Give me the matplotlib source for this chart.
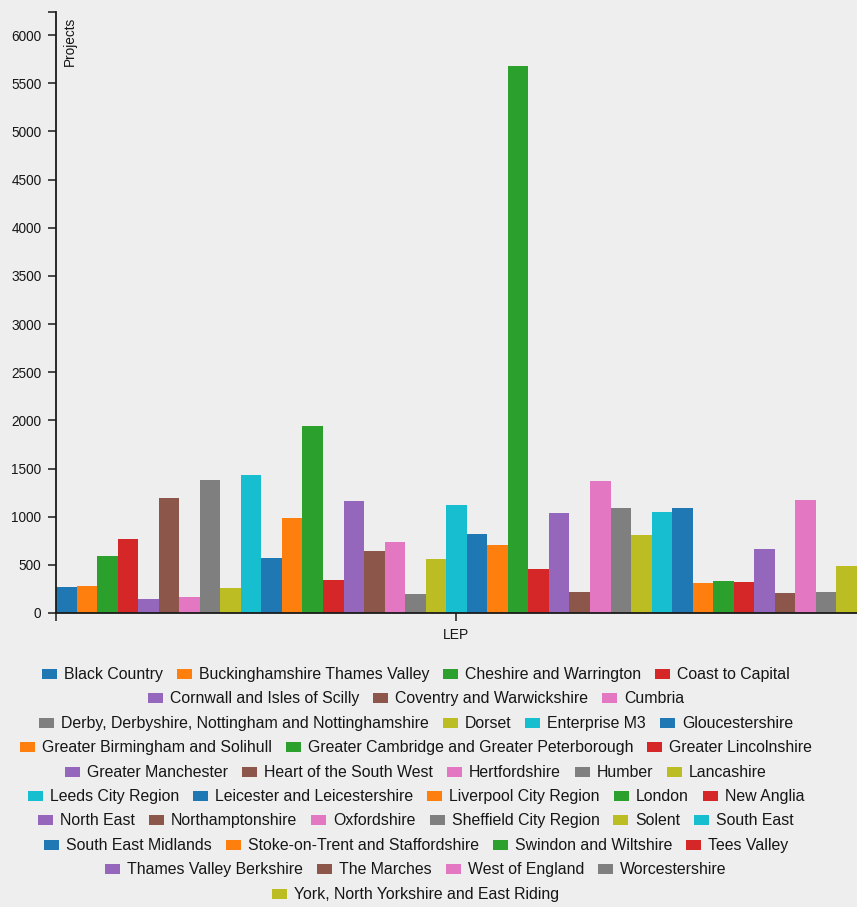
import matplotlib
matplotlib.use("Agg")
import matplotlib.pyplot as plt
from matplotlib.patches import Rectangle

W, H, DPI = 857, 907, 100
BG = "#eeeeee"
AXIS = "#1a1a1a"
TXT = "#161616"

leps = [
    "Black Country", "Buckinghamshire Thames Valley", "Cheshire and Warrington",
    "Coast to Capital", "Cornwall and Isles of Scilly", "Coventry and Warwickshire",
    "Cumbria", "Derby, Derbyshire, Nottingham and Nottinghamshire", "Dorset",
    "Enterprise M3", "Gloucestershire", "Greater Birmingham and Solihull",
    "Greater Cambridge and Greater Peterborough", "Greater Lincolnshire",
    "Greater Manchester", "Heart of the South West", "Hertfordshire", "Humber",
    "Lancashire", "Leeds City Region", "Leicester and Leicestershire",
    "Liverpool City Region", "London", "New Anglia", "North East",
    "Northamptonshire", "Oxfordshire", "Sheffield City Region", "Solent",
    "South East", "South East Midlands", "Stoke-on-Trent and Staffordshire",
    "Swindon and Wiltshire", "Tees Valley", "Thames Valley Berkshire",
    "The Marches", "West of England", "Worcestershire",
    "York, North Yorkshire and East Riding",
]
projects = [
    270, 277, 588, 768, 142, 1193, 166, 1383, 256, 1435,
    571, 982, 1937, 346, 1158, 640, 740, 197, 560, 1117,
    820, 709, 5675, 456, 1037, 218, 1373, 1089, 809, 1044,
    1089, 308, 335, 322, 660, 207, 1172, 221, 491,
]
y_ticks = list(range(0, 6001, 500))
# how many legend entries sit on each wrapped line
legend_rows = [4, 3, 4, 3, 5, 5, 6, 4, 4, 1]

palette = ["#1f77b4", "#ff7f0e", "#2ca02c", "#d62728", "#9467bd",
           "#8c564b", "#e377c2", "#7f7f7f", "#bcbd22", "#17becf"]
colors = [palette[i % len(palette)] for i in range(len(leps))]

plt.rcParams["font.family"] = ["Liberation Sans", "DejaVu Sans"]

fig = plt.figure(figsize=(W / DPI, H / DPI), dpi=DPI, facecolor=BG)
top, bottom, left = 11.7, 613.0, 56.0
ax = fig.add_axes([left / W, 1 - bottom / H, (W - left) / W, (bottom - top) / H])
ax.set_facecolor(BG)

ax.bar(range(len(leps)), projects, width=1.0, color=colors, linewidth=0)
ax.set_xlim(-0.5, len(leps) - 0.5)
ymax = max(projects) * 1.1
ax.set_ylim(0, ymax)

ax.set_yticks(y_ticks)
ax.set_yticks([ymax], minor=True)
ax.tick_params(axis="y", which="both", length=6, width=1.1, color=AXIS,
               pad=4.5, labelsize=9.8, labelcolor=TXT)
ax.set_xticks([-0.5, (len(leps) - 1) / 2])
ax.set_xticklabels(["", "LEP"])
ax.tick_params(axis="x", length=6, width=1.1, color=AXIS, pad=4.5,
               labelsize=10, labelcolor=TXT)
for side in ("top", "right"):
    ax.spines[side].set_visible(False)
for side in ("left", "bottom"):
    ax.spines[side].set_color(AXIS)
    ax.spines[side].set_linewidth(1.3)

fig.text(63 / W, 1 - 17 / H, "Projects", rotation=90, ha="left", va="top",
         fontsize=9.8, color=TXT)

# legend: centred, wrapped lines of coloured squares + labels
renderer = fig.canvas.get_renderer()
sq_w, sq_h, gap, spacing = 15, 10, 7, 14
center_x, row0, row_step = 416, 674, 24.4
idx = 0
for r, n in enumerate(legend_rows):
    baseline = row0 + row_step * r + 5
    texts = []
    for i in range(idx, idx + n):
        t = fig.text(0, 0, leps[i], fontsize=11.4, color=TXT, va="baseline", ha="left")
        texts.append(t)
    widths = [t.get_window_extent(renderer).width for t in texts]
    total = sum(sq_w + gap + w for w in widths) + spacing * (n - 1)
    x = center_x - total / 2
    for k, t in enumerate(texts):
        fig.add_artist(Rectangle((x / W, 1 - baseline / H), sq_w / W, sq_h / H,
                                 transform=fig.transFigure, color=colors[idx + k], lw=0))
        t.set_position(((x + sq_w + gap) / W, 1 - baseline / H))
        x += sq_w + gap + widths[k] + spacing
    idx += n

fig.savefig("out.png", dpi=DPI, facecolor=BG)
